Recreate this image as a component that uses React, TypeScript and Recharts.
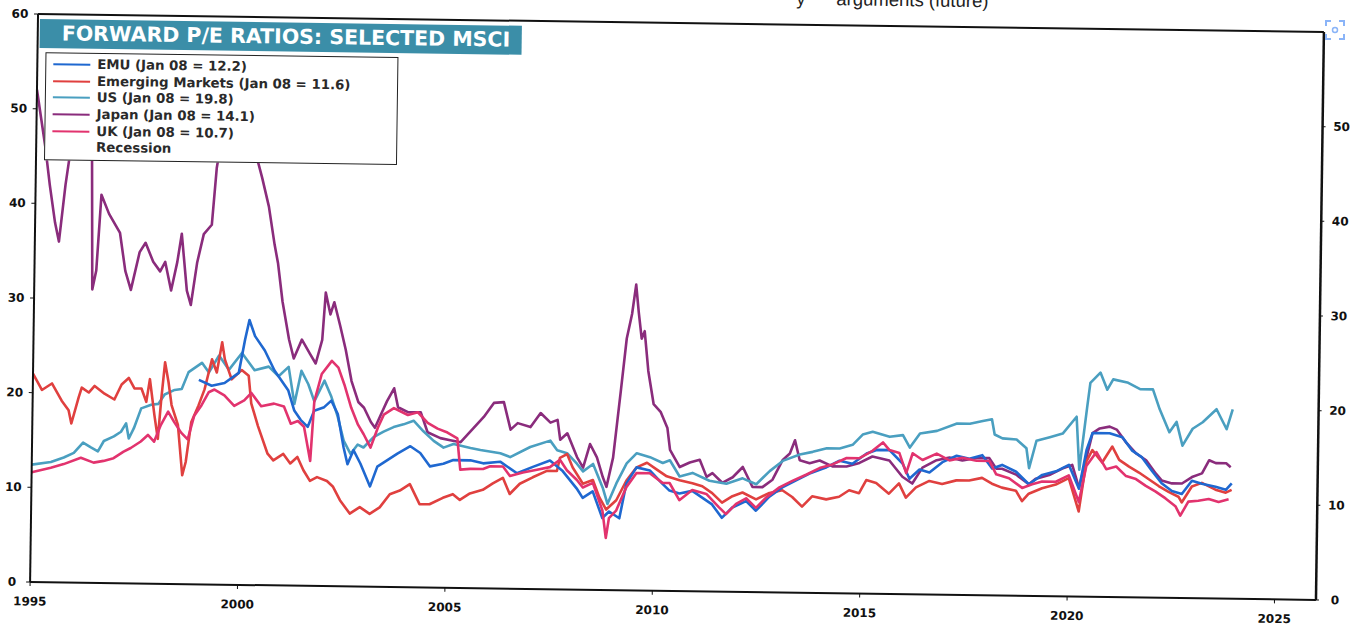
import React from 'react';
import { LineChart, Line, XAxis, YAxis, ReferenceLine } from 'recharts';

// ---------- axes ----------
const X_TICKS = [1995, 2000, 2005, 2010, 2015, 2020, 2025];
const LEFT_TICKS = [0, 10, 20, 30, 40, 50, 60];
const RIGHT_TICKS = [0, 10, 20, 30, 40, 50];

// ---------- series (year, forward P/E) ----------
const EMU_T = [1999.0, 1999.31, 1999.62, 1999.96, 2000.1, 2000.2, 2000.34, 2000.58, 2000.82, 2001.16, 2001.31, 2001.47, 2001.64, 2001.79, 2002.03, 2002.2, 2002.36, 2002.51, 2002.61, 2002.75, 2002.92, 2003.16, 2003.33, 2003.57, 2003.81, 2004.12, 2004.36, 2004.6, 2004.92, 2005.16, 2005.57, 2005.88, 2006.29, 2006.7, 2007.08, 2007.49, 2007.8, 2008.14, 2008.29, 2008.53, 2008.77, 2008.93, 2009.18, 2009.34, 2009.58, 2009.9, 2010.21, 2010.38, 2010.62, 2010.93, 2011.17, 2011.41, 2011.65, 2011.9, 2012.23, 2012.47, 2012.79, 2013.1, 2013.44, 2013.75, 2014.16, 2014.47, 2014.78, 2015.12, 2015.36, 2015.67, 2015.99, 2016.16, 2016.4, 2016.64, 2016.95, 2017.29, 2017.6, 2017.91, 2018.15, 2018.39, 2018.73, 2019.04, 2019.36, 2019.69, 2020.0, 2020.25, 2020.42, 2020.56, 2020.97, 2021.28, 2021.52, 2021.76, 2022.0, 2022.24, 2022.49, 2022.73, 2022.97, 2023.21, 2023.54, 2023.79, 2023.93];
const EMU_V = [21.6, 21, 21.3, 22.4, 25.9, 28, 26.3, 24.8, 22.7, 20.6, 18.5, 17.5, 16.8, 18.5, 18.9, 19.6, 18.2, 14.7, 12.9, 14.4, 13, 10.6, 12.7, 13.4, 14.1, 14.9, 14.2, 12.8, 13.1, 13.5, 13.5, 13.2, 13.4, 12.2, 12.9, 13.6, 12.5, 10.7, 9.7, 10.4, 7.6, 8.3, 7.6, 11.3, 13, 12.7, 11.3, 10.6, 10.3, 10.6, 9.9, 9.2, 7.8, 8.9, 9.6, 8.6, 10.1, 11.1, 11.9, 12.6, 13.3, 14, 13.7, 14.8, 15.2, 15.2, 13.8, 12.2, 13.2, 12.9, 14, 14.7, 14.4, 14.8, 13.4, 13.8, 13.1, 11.8, 12.8, 13.2, 13.9, 11.4, 15.5, 17.3, 17.3, 16.9, 15.5, 14.8, 13.4, 12.1, 11.3, 11, 12.4, 12.1, 11.8, 11.5, 12.2];

const EM_T = [1995.0, 1995.22, 1995.46, 1995.7, 1995.87, 1995.94, 1996.11, 1996.18, 1996.35, 1996.49, 1996.73, 1996.97, 1997.14, 1997.31, 1997.45, 1997.62, 1997.74, 1997.82, 1997.94, 1998.03, 1998.1, 1998.18, 1998.27, 1998.35, 1998.51, 1998.63, 1998.71, 1998.83, 1999.0, 1999.14, 1999.31, 1999.43, 1999.55, 1999.62, 1999.79, 2000.03, 2000.2, 2000.27, 2000.44, 2000.68, 2000.82, 2001.06, 2001.23, 2001.4, 2001.55, 2001.71, 2001.88, 2002.12, 2002.27, 2002.44, 2002.68, 2002.92, 2003.16, 2003.4, 2003.64, 2003.88, 2004.12, 2004.36, 2004.6, 2004.92, 2005.16, 2005.33, 2005.57, 2005.88, 2006.12, 2006.36, 2006.53, 2006.77, 2007.08, 2007.42, 2007.66, 2007.73, 2007.9, 2008.04, 2008.29, 2008.53, 2008.69, 2008.86, 2009.1, 2009.34, 2009.58, 2009.83, 2010.07, 2010.31, 2010.62, 2010.93, 2011.17, 2011.41, 2011.65, 2011.9, 2012.14, 2012.47, 2012.79, 2013.1, 2013.34, 2013.58, 2013.82, 2014.16, 2014.47, 2014.71, 2014.95, 2015.12, 2015.36, 2015.67, 2015.91, 2016.08, 2016.32, 2016.64, 2016.95, 2017.29, 2017.6, 2017.91, 2018.15, 2018.39, 2018.73, 2018.88, 2019.04, 2019.36, 2019.69, 2020.0, 2020.25, 2020.42, 2020.56, 2020.8, 2021.04, 2021.21, 2021.45, 2021.69, 2021.93, 2022.17, 2022.41, 2022.65, 2022.73, 2022.97, 2023.21, 2023.54, 2023.79, 2023.93];
const EM_V = [22, 20.3, 21, 19.2, 18.2, 16.8, 19.6, 20.6, 20.1, 20.8, 20, 19.4, 21, 21.7, 20.6, 20.6, 19.2, 21.6, 17.8, 15.3, 19.5, 23.4, 21.3, 18.9, 16.8, 11.5, 12.9, 17.1, 18.9, 20.6, 23.8, 22.4, 25.6, 23.8, 21.7, 22.7, 22.1, 19.2, 16.8, 13.9, 13.2, 13.9, 12.9, 13.6, 12.2, 11.1, 11.5, 11.1, 10.5, 9.1, 7.7, 8.4, 7.7, 8.4, 9.8, 10.2, 10.9, 8.8, 8.8, 9.5, 9.9, 9.3, 10, 10.4, 11.1, 11.7, 10, 11.1, 11.8, 12.5, 12.5, 13.9, 14.3, 12.9, 11.2, 11.6, 9.8, 8.5, 9.5, 11.6, 13, 13.5, 12.8, 12.1, 11.7, 11.4, 11.1, 10.4, 9.4, 10.1, 10.5, 9.8, 10.5, 10.8, 10.1, 9.1, 10.2, 9.9, 10.2, 10.9, 10.6, 12, 11.7, 10.6, 11.7, 10.2, 11.3, 12, 11.7, 12.1, 12.1, 12.4, 11.8, 11.4, 11.1, 10, 10.8, 11.4, 11.8, 12.5, 9, 14.3, 15.5, 14.2, 15.9, 14.5, 13.8, 13.2, 12.5, 11.8, 11.2, 10.7, 10.1, 11.8, 12.2, 11.5, 11.2, 11.5];

const US_T = [1995.0, 1995.46, 1995.77, 1996.01, 1996.23, 1996.42, 1996.59, 1996.73, 1996.97, 1997.14, 1997.26, 1997.33, 1997.45, 1997.62, 1997.86, 1998.03, 1998.18, 1998.42, 1998.59, 1998.75, 1999.07, 1999.24, 1999.48, 1999.72, 2000.03, 2000.34, 2000.68, 2000.92, 2001.16, 2001.31, 2001.47, 2001.64, 2001.79, 2002.03, 2002.2, 2002.36, 2002.51, 2002.68, 2002.85, 2002.99, 2003.23, 2003.47, 2003.71, 2003.95, 2004.19, 2004.43, 2004.68, 2004.92, 2005.16, 2005.57, 2005.81, 2006.29, 2006.53, 2007.01, 2007.49, 2007.66, 2007.9, 2008.14, 2008.29, 2008.53, 2008.77, 2008.89, 2009.1, 2009.34, 2009.58, 2009.9, 2010.21, 2010.38, 2010.62, 2010.93, 2011.34, 2011.75, 2012.14, 2012.47, 2012.79, 2013.1, 2013.51, 2013.82, 2014.16, 2014.47, 2014.78, 2015.02, 2015.26, 2015.67, 2015.99, 2016.16, 2016.4, 2016.81, 2017.29, 2017.6, 2017.91, 2018.13, 2018.2, 2018.39, 2018.73, 2018.97, 2019.04, 2019.21, 2019.53, 2019.84, 2020.17, 2020.25, 2020.42, 2020.49, 2020.73, 2020.9, 2021.04, 2021.38, 2021.69, 2022.0, 2022.17, 2022.41, 2022.58, 2022.73, 2022.97, 2023.21, 2023.54, 2023.79, 2023.93];
const US_V = [12.4, 12.7, 13.2, 13.7, 14.8, 14.3, 13.9, 15, 15.5, 16, 16.9, 15.3, 16.4, 18.5, 18.9, 19, 20, 20.5, 20.6, 22.4, 23.4, 22.4, 24.2, 22.7, 24.5, 22.7, 23.1, 22.1, 23.1, 19.2, 22.7, 21.3, 19.5, 21.7, 20, 17.9, 15.4, 14, 15, 14.7, 15.8, 16.4, 16.9, 17.2, 17.6, 16.5, 15.5, 14.8, 15.2, 14.8, 14.6, 14.3, 13.9, 15, 15.7, 14.7, 14.4, 13.3, 12.5, 13.3, 10.8, 9.1, 11.3, 13.4, 14.5, 14.1, 13.5, 13.8, 12.1, 12.5, 11.7, 11.4, 12, 11.4, 12.8, 13.9, 14.6, 14.9, 15.3, 15.3, 15.7, 16.8, 17.1, 16.6, 16.8, 15.5, 17, 17.3, 18.1, 18.1, 18.4, 18.6, 17, 16.6, 16.5, 15.6, 13.5, 16.4, 16.8, 17.2, 19, 13.4, 20, 22.6, 23.7, 21.9, 23, 22.7, 22, 22, 19.9, 17.5, 18.6, 16.1, 17.9, 18.6, 20, 17.9, 20];

const JAPAN_T = [1995.0, 1995.22, 1995.34, 1995.48, 1995.58, 1995.72, 1995.87, 1996.08, 1996.25, 1996.35, 1996.4, 1996.49, 1996.59, 1996.78, 1997.05, 1997.19, 1997.33, 1997.53, 1997.67, 1997.86, 1998.03, 1998.15, 1998.3, 1998.44, 1998.54, 1998.68, 1998.78, 1998.92, 1999.07, 1999.26, 1999.36, 1999.5, 1999.69, 1999.98, 2000.13, 2000.27, 2000.46, 2000.63, 2000.78, 2000.87, 2000.99, 2001.16, 2001.28, 2001.47, 2001.67, 2001.81, 2001.96, 2002.03, 2002.15, 2002.24, 2002.39, 2002.53, 2002.68, 2002.85, 2002.99, 2003.16, 2003.26, 2003.4, 2003.54, 2003.71, 2003.81, 2004.05, 2004.36, 2004.53, 2004.84, 2005.08, 2005.33, 2005.88, 2006.12, 2006.36, 2006.53, 2006.7, 2007.01, 2007.25, 2007.49, 2007.66, 2007.73, 2007.9, 2008.14, 2008.29, 2008.45, 2008.62, 2008.77, 2008.86, 2009.01, 2009.18, 2009.3, 2009.42, 2009.51, 2009.58, 2009.66, 2009.73, 2009.83, 2009.97, 2010.14, 2010.31, 2010.38, 2010.62, 2010.86, 2011.1, 2011.27, 2011.41, 2011.65, 2011.9, 2012.14, 2012.38, 2012.62, 2012.86, 2013.1, 2013.27, 2013.39, 2013.51, 2013.75, 2013.99, 2014.3, 2014.64, 2014.95, 2015.26, 2015.67, 2015.99, 2016.23, 2016.47, 2016.81, 2017.12, 2017.43, 2017.77, 2018.08, 2018.25, 2018.39, 2018.73, 2019.04, 2019.21, 2019.53, 2019.84, 2020.08, 2020.25, 2020.56, 2020.73, 2020.97, 2021.14, 2021.38, 2021.62, 2021.86, 2022.1, 2022.24, 2022.49, 2022.73, 2022.97, 2023.21, 2023.38, 2023.54, 2023.79, 2023.9];
const JAPAN_V = [52, 46, 42, 38, 36, 42, 47, 50, 48, 45, 31, 33, 41, 39, 37, 33, 31, 35, 36, 34, 33, 34, 31, 34, 37, 31, 29.5, 34, 37, 38, 44, 48, 51, 47, 45, 46, 43, 40, 36, 34, 30, 26, 24, 26, 24.5, 23.5, 26, 31, 28.7, 30, 27.5, 25, 21.7, 19.5, 18.9, 17.4, 16.8, 18.2, 19.6, 21, 19, 18.5, 18.5, 16.4, 15.8, 15.6, 15.4, 18.1, 19.6, 19.7, 16.8, 17.5, 17.1, 18.6, 17.6, 17.9, 15.8, 16.5, 14, 12.9, 15.4, 14, 11.9, 10.9, 14, 21.3, 26.6, 29.2, 32.3, 29.4, 26.6, 27.4, 23.2, 19.7, 18.9, 17.2, 14.9, 13.1, 13.6, 13.9, 12.1, 12.5, 11.5, 12.1, 13.2, 11.1, 11.1, 11.9, 14, 14.7, 16.1, 14, 13.7, 14, 13.4, 13.4, 13.8, 14.5, 14.1, 12.4, 11.7, 13.4, 14.2, 14.5, 14.2, 14.5, 14.5, 13.4, 13.4, 12.8, 11.8, 12.4, 12.8, 13.5, 13.9, 11.5, 17.3, 17.8, 18, 17.7, 16.3, 15.2, 14.5, 13.1, 12.4, 12.1, 12.1, 12.8, 13.2, 14.6, 14.3, 14.3, 13.9];

const UK_T = [1995.0, 1995.46, 1995.77, 1996.18, 1996.49, 1996.73, 1996.97, 1997.21, 1997.38, 1997.62, 1997.79, 1997.94, 1998.1, 1998.27, 1998.42, 1998.59, 1998.75, 1998.9, 1999.07, 1999.24, 1999.38, 1999.62, 1999.86, 2000.1, 2000.27, 2000.51, 2000.82, 2001.06, 2001.23, 2001.4, 2001.55, 2001.71, 2001.79, 2001.96, 2002.2, 2002.36, 2002.51, 2002.68, 2002.85, 2002.99, 2003.16, 2003.33, 2003.47, 2003.71, 2004.05, 2004.29, 2004.53, 2004.77, 2005.01, 2005.25, 2005.33, 2005.57, 2005.88, 2006.05, 2006.36, 2006.53, 2006.84, 2007.18, 2007.49, 2007.73, 2007.9, 2008.14, 2008.29, 2008.53, 2008.77, 2008.86, 2008.93, 2009.1, 2009.34, 2009.58, 2009.9, 2010.21, 2010.38, 2010.62, 2010.93, 2011.27, 2011.58, 2011.75, 2011.99, 2012.23, 2012.47, 2012.71, 2013.03, 2013.34, 2013.68, 2013.99, 2014.3, 2014.64, 2014.95, 2015.26, 2015.51, 2015.67, 2015.91, 2016.08, 2016.23, 2016.47, 2016.81, 2017.12, 2017.43, 2017.77, 2018.08, 2018.25, 2018.56, 2018.88, 2019.12, 2019.36, 2019.69, 2020.0, 2020.25, 2020.42, 2020.66, 2020.9, 2021.14, 2021.38, 2021.62, 2021.86, 2022.1, 2022.34, 2022.58, 2022.7, 2022.89, 2023.13, 2023.38, 2023.62, 2023.86];
const UK_V = [11.6, 12.1, 12.5, 13.2, 12.7, 12.9, 13.2, 13.9, 14.3, 15, 15.7, 15, 16.8, 18.2, 17.1, 16, 15.3, 17.8, 18.9, 20.3, 20.6, 20, 18.9, 19.5, 20.3, 18.9, 19.2, 18.9, 17.1, 17.4, 16.8, 13.2, 19.5, 22.4, 23.8, 23.1, 21.3, 18.9, 17.1, 16.1, 14.7, 16.8, 18.2, 18.9, 18.2, 18.5, 17.4, 16.8, 16.4, 15.8, 12.5, 12.6, 12.6, 12.9, 12.9, 11.9, 12.3, 12.6, 12.9, 13.7, 12.6, 11.6, 10.8, 11.3, 8.4, 5.5, 7.6, 8.4, 10.9, 12.4, 12.4, 11.4, 11.4, 9.6, 10.7, 10.3, 8.9, 8.2, 9.3, 9.9, 8.9, 10, 11.1, 11.8, 12.5, 13.2, 13.6, 14.3, 14.3, 15.1, 16, 15.2, 14.9, 12.8, 14.9, 14.2, 14.9, 14.2, 14.5, 14.2, 14.2, 12.8, 12.4, 11.4, 11.8, 12.1, 12.1, 12.8, 10, 13.8, 15.3, 13.5, 13.8, 12.8, 12.5, 11.8, 11.2, 10.5, 9.7, 8.7, 10.2, 10.3, 10.5, 10.2, 10.5];

// ---------- labels / colours ----------
const TITLE = 'FORWARD P/E RATIOS: SELECTED MSCI';
const LEGEND_LABELS = ['EMU (Jan 08 = 12.2)', 'Emerging Markets (Jan 08 = 11.6)', 'US (Jan 08 = 19.8)', 'Japan (Jan 08 = 14.1)', 'UK (Jan 08 = 10.7)', 'Recession'];
const COLORS = ['#1f68d0', '#e0403f', '#4a9fc0', '#8a2c7c', '#e2336e', 'transparent'];

const build = (t: number[], v: number[]) => t.map((x, i) => ({ t: x, v: v[i] }));

// drawing order (first drawn = underneath)
const SERIES = [
  { key: 'japan', color: COLORS[3], data: build(JAPAN_T, JAPAN_V) },
  { key: 'us', color: COLORS[2], data: build(US_T, US_V) },
  { key: 'em', color: COLORS[1], data: build(EM_T, EM_V) },
  { key: 'emu', color: COLORS[0], data: build(EMU_T, EMU_V) },
  { key: 'uk', color: COLORS[4], data: build(UK_T, UK_V) },
];

const FONT = '"DejaVu Sans", Verdana, sans-serif';
const tickStyle = { fontFamily: FONT, fontSize: 12, fontWeight: 700, fill: '#111' } as const;

const SideTick = (p: any) => (
  <text x={p.x} y={p.y} dy={4} textAnchor="middle" style={tickStyle}>{p.payload.value}</text>
);
const BottomTick = (p: any) => (
  <text x={p.x} y={p.y} dy="0.71em" textAnchor="middle" style={tickStyle}>{p.payload.value}</text>
);

const headStyle = {
  position: 'absolute' as const, top: -13, fontFamily: 'Arial, "Liberation Sans", sans-serif',
  fontSize: 18.5, color: '#222', whiteSpace: 'nowrap' as const, lineHeight: '20px',
};

export default function App() {
  return (
    <div style={{ position: 'absolute', left: 0, top: 0, width: 1361, height: 626, overflow: 'hidden', background: '#fff' }}>
      <div style={{ position: 'absolute', left: 0, top: 0, width: 1361, height: 626, transform: 'rotate(0.8deg)', transformOrigin: '677px 307px' }}>
        <div style={{ ...headStyle, left: 792 }}>y</div>
        <div style={{ ...headStyle, left: 832 }}>arguments (future)</div>
        <LineChart width={1361} height={626} margin={{ top: 23, right: 0, bottom: 0, left: 0 }}>
          <XAxis
            type="number"
            dataKey="t"
            domain={[1995, 2026]}
            ticks={X_TICKS}
            interval={0}
            allowDataOverflow
            height={35}
            tickSize={4}
            tickMargin={11}
            axisLine={{ stroke: '#111', strokeWidth: 2 }}
            tickLine={{ stroke: '#111' }}
            tick={BottomTick}
          />
          <YAxis
            yAxisId="left"
            type="number"
            domain={[0, 60]}
            ticks={LEFT_TICKS}
            interval={0}
            width={34}
            tickSize={4}
            tickMargin={14}
            axisLine={{ stroke: '#111', strokeWidth: 2 }}
            tickLine={{ stroke: '#111' }}
            tick={SideTick}
          />
          <YAxis
            yAxisId="right"
            orientation="right"
            type="number"
            domain={[0, 60]}
            ticks={RIGHT_TICKS}
            interval={0}
            allowDataOverflow
            width={41}
            tickSize={3}
            tickMargin={16}
            axisLine={{ stroke: '#111', strokeWidth: 2.5 }}
            tickLine={{ stroke: '#111' }}
            tick={SideTick}
          />
          <ReferenceLine yAxisId="left" y={60} stroke="#111" strokeWidth={2} />
          {/* invisible series bound to the right axis so that it renders its scale */}
          <Line
            yAxisId="right"
            data={SERIES[1].data}
            dataKey="v"
            stroke="none"
            strokeOpacity={0}
            dot={false}
            activeDot={false}
            isAnimationActive={false}
          />
          {SERIES.map((s) => (
            <Line
              key={s.key}
              yAxisId="left"
              data={s.data}
              dataKey="v"
              type="linear"
              stroke={s.color}
              strokeWidth={2.6}
              strokeLinejoin="round"
              dot={false}
              isAnimationActive={false}
            />
          ))}
        </LineChart>
        <div
          style={{
            position: 'absolute', left: 36, top: 28, width: 482, height: 29,
            background: '#3b8ea8', color: '#fff', fontFamily: FONT, fontWeight: 700,
            fontSize: 20.5, lineHeight: '29px', paddingLeft: 22, boxSizing: 'border-box', whiteSpace: 'nowrap',
          }}
        >
          {TITLE}
        </div>
        <div
          style={{
            position: 'absolute', left: 42, top: 61, width: 353, height: 108,
            background: '#fff', border: '1.5px solid #222', boxSizing: 'border-box', paddingTop: 3,
          }}
        >
          {LEGEND_LABELS.map((label, i) => (
            <div key={label} style={{ display: 'flex', alignItems: 'center', height: 16.6 }}>
              <div style={{ width: 37, height: 2, marginLeft: 7, background: COLORS[i] }} />
              <span style={{ marginLeft: 7, fontFamily: FONT, fontWeight: 700, fontSize: 13.3, lineHeight: '14px', color: '#2a2a2a', whiteSpace: 'nowrap' }}>
                {label}
              </span>
            </div>
          ))}
        </div>
      </div>
      <svg style={{ position: 'absolute', left: 1324, top: 19 }} width={22} height={22} viewBox="0 0 22 22">
        <path d="M2 7 V2 H7 M15 2 H20 V7 M20 15 V20 H15 M7 20 H2 V15" fill="none" stroke="#8ab4f8" strokeWidth={2} />
        <circle cx={11} cy={11} r={2.5} fill="none" stroke="#8ab4f8" strokeWidth={1.5} />
      </svg>
    </div>
  );
}
